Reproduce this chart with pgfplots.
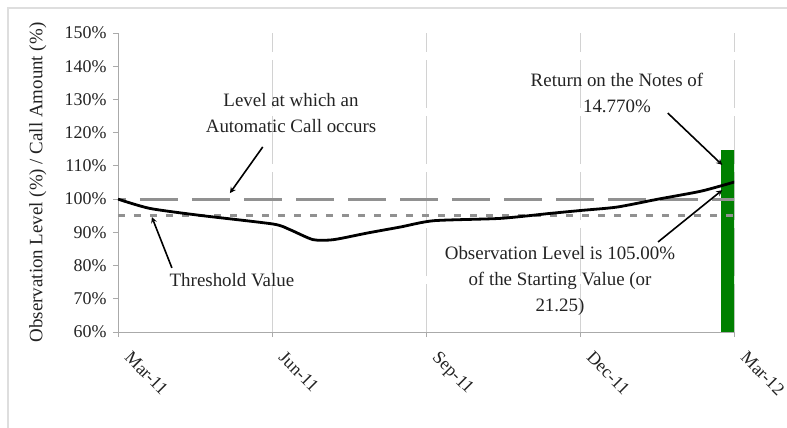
\documentclass[border=0pt]{standalone}
\usepackage{fontspec}
\setmainfont{Liberation Serif}
\usepackage{pgfplots}
\pgfplotsset{compat=1.18}

\definecolor{axisgray}{RGB}{170,170,170}
\definecolor{gridgray}{RGB}{210,210,210}
\definecolor{linegray}{RGB}{145,145,145}
\definecolor{framegray}{RGB}{222,222,222}
\definecolor{bargreen}{RGB}{0,128,0}
\definecolor{txt}{RGB}{35,35,35}

\begin{document}
\begin{tikzpicture}
\begin{axis}[
    scale only axis,
    width=616bp, height=299bp,
    xmin=0, xmax=12, ymin=60, ymax=150,
    axis lines=left,
    axis line style={draw=axisgray, line width=0.8bp, -},
    tick style={draw=axisgray, line width=0.8bp},
    tick align=outside,
    major tick length=5bp,
    xtick={0,3,6,9,12},
    xticklabels={Mar-11,Jun-11,Sep-11,Dec-11,Mar-12},
    ytick={60,70,...,150},
    yticklabel={\pgfmathprintnumber{\tick}\%},
    /pgf/number format/assume math mode=true,
    ticklabel style={font=\fontsize{18}{20}\selectfont, text=txt},
    xticklabel style={rotate=-45, anchor=north west, xshift=16bp, yshift=4bp},
    yticklabel style={xshift=-3bp},
    xmajorgrids,
    grid style={draw=gridgray, line width=0.9bp, dash pattern=on 48bp off 8bp},
    ylabel={Observation Level (\%) / Call Amount (\%)},
    ylabel style={at={(axis description cs:-0.13,0.5)}, anchor=center,
        font=\fontsize{19}{22}\selectfont, text=txt},
]
% payout bar
\addplot[ybar, bar width=17.6bp, fill=bargreen, draw=none] coordinates {(11.91,114.77)};

% call level and threshold
\addplot[linegray, line width=3.2bp, dash pattern=on 38bp off 14bp, dash phase=30bp] coordinates {(0,100) (12,100)};
\addplot[linegray, line width=3bp, dash pattern=on 7bp off 9bp] coordinates {(0,95) (12,95)};

% observation level
\addplot[black, line width=2.8bp, smooth, tension=0.4] coordinates {
    (0,100) (0.62,97.2) (1.6,95.1) (3.02,92.5) (3.35,90.8) (3.8,87.8) (4.2,87.8)
    (4.86,89.8) (5.5,91.6) (6.15,93.5) (7.45,94.2) (8.42,95.7) (9.03,96.6)
    (9.72,97.6) (10.49,99.9) (11.36,102.4) (12.02,105.2)
};

% annotations
\begin{scope}[font=\fontsize{19}{26}\selectfont, text=txt]
\node[align=center] at (axis cs:3.37,125.9) {Level at which an\\Automatic Call occurs};
\node[align=center] at (axis cs:2.22,75.65) {Threshold Value};
\node[align=center] at (axis cs:9.72,131.9) {Return on the Notes of\\14.770\%};
\node[align=center] at (axis cs:8.61,75.35) {Observation Level is 105.00\%\\of the Starting Value (or\\21.25)};
\end{scope}
\begin{scope}[black, line width=1.6bp, -stealth]
\draw (axis cs:2.82,115.7) -- (axis cs:2.18,101.8);
\draw (axis cs:1.05,79.3) -- (axis cs:0.66,94.6);
\draw (axis cs:10.71,125.9) -- (axis cs:11.77,110.3);
\draw (axis cs:10.52,87.1) -- (axis cs:11.77,102.7);
\end{scope}
\end{axis}
\draw[framegray, line width=2bp] (-110bp,-100bp) -- (-110bp,324bp) -- (675bp,324bp);
\pgfresetboundingbox
\useasboundingbox (-118bp,-96bp) rectangle (669bp,332bp);
\end{tikzpicture}
\end{document}
